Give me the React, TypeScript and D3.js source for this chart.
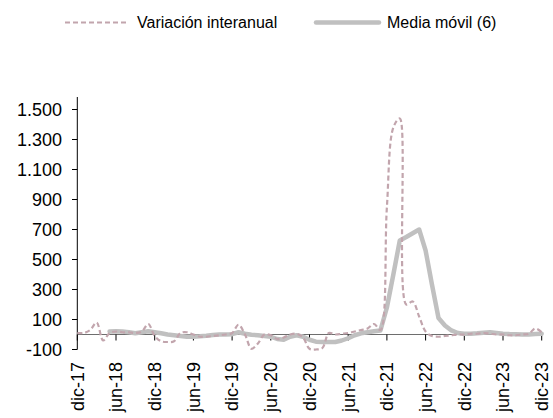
import React from "react";
import * as d3 from "d3";

// Monthly data, dic-17 (index 0) to dic-23 (index 72)
const variacionInteranual: number[] = [
  10, 10, 30, 80, -40, 10, 20, 15, 15, 10, 20, 70,
  -10, -45, -50, -45, 10, 15, 0, -15, -15, -10, -5, 0,
  10, 65, 0, -95, -60, 0, -5, -30, -20, 0, 5, -20,
  -95, -100, -90, 10, 0, 5, 10, 20, 30, 40, 70, 30,
  850, 1380, 1440, 200, 220, 120, 20, -10, -15, -10, -5, 0,
  0, 5, 5, 10, 5, 0, 0, -5, -5, 0, 5, 40,
  15,
];

const mediaMovil: (number | null)[] = [
  null, null, null, null, null, 20, 22, 20, 15, 8, 15, 22,
  15, 8, 0, -5, -10, -15, -15, -12, -8, -3, 0, 0,
  2, 15, 5, -2, -5, -10, -15, -30, -35, -15, -5, -15,
  -35, -48, -50, -50, -50, -40, -25, -5, 8, 15, 22, 27,
  180, 400, 627, 650, 675, 700, 560, 330, 110, 60, 27, 10,
  5, 5, 8, 12, 15, 10, 5, 3, 2, 0, 0, 3,
  5,
];

const tickLabels: string[] = [
  "dic-17", "jun-18", "dic-18", "jun-19", "dic-19", "jun-20", "dic-20",
  "jun-21", "dic-21", "jun-22", "dic-22", "jun-23", "dic-23",
];
const yTicks: number[] = [-100, 100, 300, 500, 700, 900, 1100, 1300, 1500];
const seriesNames: string[] = ["Variación interanual", "Media móvil (6)"];

const W = 553;
const H = 418;
const FONT = "Liberation Sans, Arial, sans-serif";
const DASH_COLOR = "#c2a5ad";
const GRAY_COLOR = "#c0c0c0";

export default function App() {
  const x = d3.scaleLinear().domain([0, 72]).range([77.3, 541.7]);
  const y = d3.scaleLinear().domain([-100, 1500]).range([349.5, 109.5]);

  const dashedLine = d3
    .line<number>()
    .x((_, i) => x(i))
    .y((d) => y(d))
    .curve(d3.curveCatmullRom.alpha(0.5));

  const grayLine = d3
    .line<number | null>()
    .defined((d) => d !== null)
    .x((_, i) => x(i))
    .y((d) => y(d as number));

  const fmt = (v: number) =>
    v.toString().replace(/\B(?=(\d{3})+(?!\d))/g, ".");

  return (
    <svg
      width={W}
      height={H}
      style={{ position: "absolute", left: 0, top: 0, background: "#fff" }}
      fontFamily={FONT}
    >
      {/* Legend */}
      <g>
        <line x1={65} x2={128} y1={22.5} y2={22.5} stroke={DASH_COLOR} strokeWidth={2.2} strokeDasharray="5,3" />
        <text x={137} y={28} fontSize={16} fill="#000">{seriesNames[0]}</text>
        <line x1={316} x2={379} y1={22.5} y2={22.5} stroke={GRAY_COLOR} strokeWidth={4.5} strokeLinecap="round" />
        <text x={387} y={28} fontSize={16} fill="#000">{seriesNames[1]}</text>
      </g>

      {/* Y axis */}
      <line x1={77.3} x2={77.3} y1={97} y2={349.5} stroke="#000" strokeWidth={1} />
      {yTicks.map((t) => (
        <g key={t}>
          <line x1={72} x2={77.3} y1={y(t)} y2={y(t)} stroke="#000" strokeWidth={1} />
          <text x={62} y={y(t)} dy="0.35em" textAnchor="end" fontSize={18} fill="#000">
            {fmt(t)}
          </text>
        </g>
      ))}

      {/* X axis at zero */}
      <line x1={77.3} x2={541.7} y1={y(0)} y2={y(0)} stroke="#6e6e6e" strokeWidth={1} />
      {tickLabels.map((lab, k) => {
        const xi = x(k * 6);
        return (
          <g key={lab}>
            <line x1={xi} x2={xi} y1={y(0)} y2={y(0) + 6} stroke="#000" strokeWidth={1} />
            <text
              transform={`translate(${xi},362) rotate(-90)`}
              dy="0.35em"
              textAnchor="end"
              fontSize={18}
              fill="#000"
            >
              {lab}
            </text>
          </g>
        );
      })}

      {/* Series */}
      <path d={grayLine(mediaMovil) ?? ""} fill="none" stroke={GRAY_COLOR} strokeWidth={4.5} strokeLinejoin="round" strokeLinecap="round" />
      <path d={dashedLine(variacionInteranual) ?? ""} fill="none" stroke={DASH_COLOR} strokeWidth={2.2} strokeDasharray="5,3" />
    </svg>
  );
}
